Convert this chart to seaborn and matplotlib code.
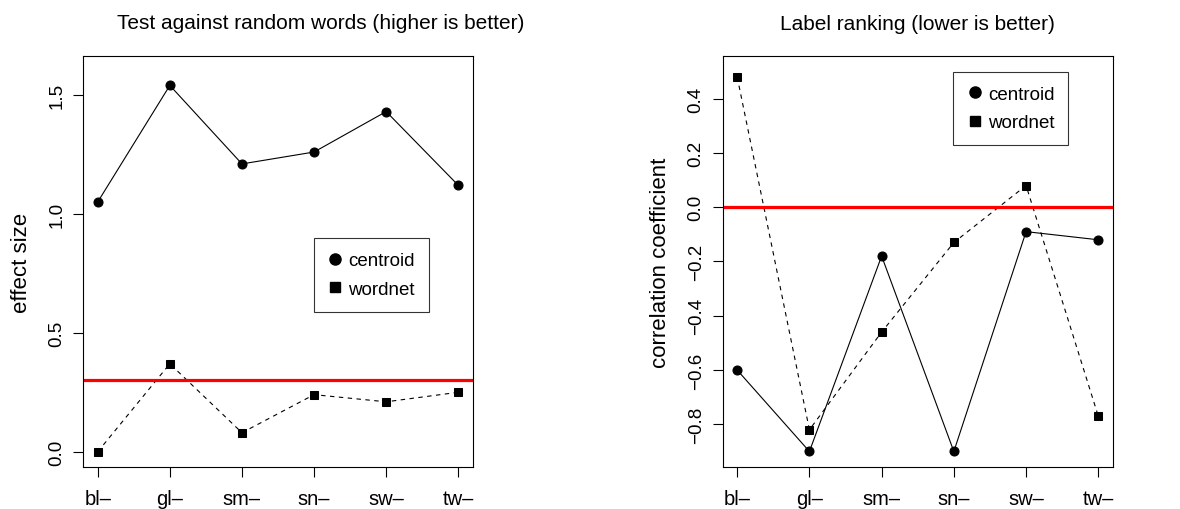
import seaborn as sns
import matplotlib.pyplot as plt
from matplotlib.lines import Line2D

# Données
categories = ["bl–", "gl–", "sm–", "sn–", "sw–", "tw–"]
effect_centroid = [1.05, 1.54, 1.21, 1.26, 1.43, 1.12]
effect_wordnet = [0.0, 0.37, 0.08, 0.24, 0.21, 0.25]
effect_ref = 0.3
corr_centroid = [-0.60, -0.90, -0.18, -0.90, -0.09, -0.12]
corr_wordnet = [0.48, -0.82, -0.46, -0.13, 0.08, -0.77]
corr_ref = 0.0

sns.set_style("white")
plt.rcParams['font.family'] = ['Liberation Sans', 'DejaVu Sans']
for k in ['text.color', 'axes.labelcolor', 'xtick.color', 'ytick.color']:
    plt.rcParams[k] = 'black'

fig = plt.figure(figsize=(11.8, 5.1), dpi=100)
ax1 = fig.add_axes([0.0706, 0.0824, 0.330, 0.806])
ax2 = fig.add_axes([0.6125, 0.0830, 0.3305, 0.8046])

x = list(range(1, len(categories) + 1))


def draw_panel(ax, centroid, wordnet, ref, ylim, yticks, ylabel, title, title_x, leg_anchor):
    sns.lineplot(x=x, y=centroid, ax=ax, color='black', lw=0.8, marker='o',
                 markersize=6.5, markeredgecolor='black')
    sns.lineplot(x=x, y=wordnet, ax=ax, color='black', lw=0.8, marker='s',
                 markersize=6, markeredgecolor='black', linestyle=(0, (4, 4)))
    ax.axhline(ref, color='red', lw=2.3)

    # Limites façon R (+4 %)
    pad = (ylim[1] - ylim[0]) * 0.04
    ax.set_ylim(ylim[0] - pad, ylim[1] + pad)
    ax.set_xlim(0.8, 6.2)
    ax.set_xticks(x)
    ax.set_xticklabels(categories, fontsize=14.5)
    ax.set_yticks(yticks)
    ax.set_yticklabels([f"{v:.1f}".replace('-', '−') for v in yticks],
                       fontsize=13.5, rotation=90, va='center')
    ax.tick_params(axis='both', direction='out', length=7, width=0.8,
                   color='black', labelcolor='black', bottom=True, left=True)
    ax.tick_params(axis='x', pad=9)
    ax.tick_params(axis='y', pad=6)
    ax.set_ylabel(ylabel, fontsize=16, labelpad=12)
    for s in ax.spines.values():
        s.set_color('black')
        s.set_linewidth(0.8)

    ax.set_title(title, fontsize=15, x=title_x, pad=20, color='black')

    handles = [
        Line2D([], [], color='black', marker='o', linestyle='none', markersize=8),
        Line2D([], [], color='black', marker='s', linestyle='none', markersize=7.5),
    ]
    leg = ax.legend(handles, ["centroid", "wordnet"], loc='upper left',
                    bbox_to_anchor=leg_anchor, borderaxespad=0, fontsize=13.5,
                    frameon=True, fancybox=False, handletextpad=0.3,
                    handlelength=0.8, borderpad=0.75, labelspacing=0.6)
    leg.get_frame().set_edgecolor('black')
    leg.get_frame().set_linewidth(0.8)
    for t in leg.get_texts():
        t.set_color('black')


draw_panel(ax1, effect_centroid, effect_wordnet, effect_ref, (0, 1.6),
           [0.0, 0.5, 1.0, 1.5], "effect size",
           "Test against random words (higher is better)", 0.61, (0.592, 0.557))
draw_panel(ax2, corr_centroid, corr_wordnet, corr_ref, (-0.9, 0.5),
           [-0.8, -0.6, -0.4, -0.2, 0.0, 0.2, 0.4], "correlation coefficient",
           "Label ranking (lower is better)", 0.5, (0.591, 0.9625))

fig.savefig("out.png", dpi=100)
